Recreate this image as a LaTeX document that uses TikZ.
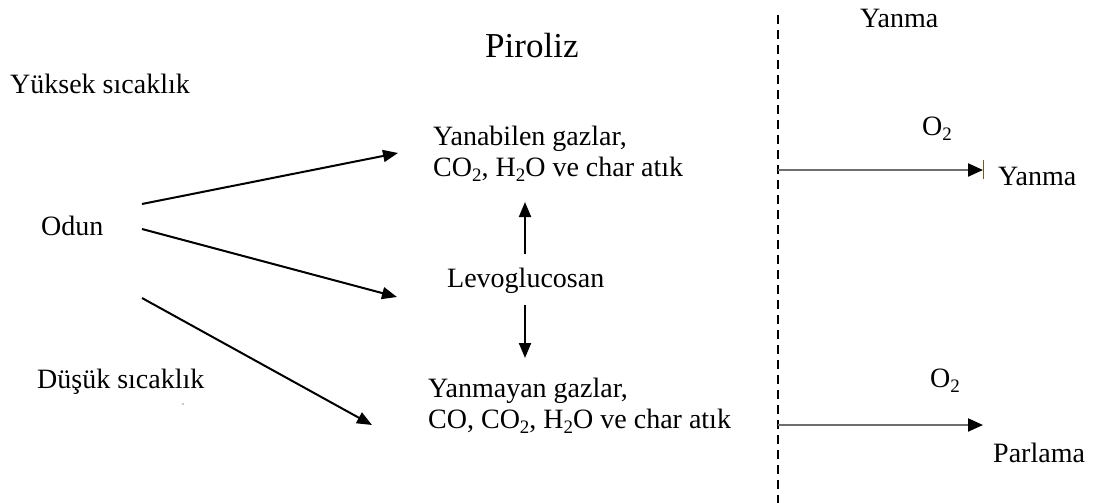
\documentclass[tikz,border=0pt]{standalone}
\usepackage{fontspec}
\setmainfont{Liberation Serif}
\usetikzlibrary{arrows.meta}
\definecolor{oxgray}{RGB}{110,110,110}
\definecolor{barbrown}{RGB}{120,90,40}
\newcommand\chemsub[1]{\raisebox{-5pt}{\fontsize{19}{19}\selectfont #1}}
\begin{document}
\begin{tikzpicture}[x=1pt,y=-1pt,
  txt/.style={anchor=base west,inner sep=0pt,font=\fontsize{28}{31}\selectfont,align=left},
  title/.style={anchor=base west,inner sep=0pt,font=\fontsize{35}{40}\selectfont},
  flow/.style={line width=2pt,-{Triangle[length=15pt,width=12pt]}},
  oxflow/.style={line width=2.2pt,draw=oxgray,-{Triangle[length=15pt,width=13pt,color=black]}},
  divider/.style={line width=1.6pt,dash pattern=on 9pt off 6pt}]
\useasboundingbox (0,0) rectangle (1100,503);

% headings
\node[title] (piroliz) at (485,58) {Piroliz};
\node[txt] (yanmaT) at (860,28) {Yanma};

% left side labels
\node[txt] (yuksek) at (10,93) {Yüksek sıcaklık};
\node[txt] (odun) at (41,235) {Odun};
\node[txt] (dusuk) at (37,388) {Düşük sıcaklık};
\fill[gray!60] (183,404) circle (1.2);

% pyrolysis products (base anchor sits on the last line)
\node[txt] (yanabilen) at (433,176) {Yanabilen gazlar,\\CO\chemsub{2}, H\chemsub{2}O ve char atık};
\node[txt] (levo) at (447,287) {Levoglucosan};
\node[txt] (yanmayan) at (428,428) {Yanmayan gazlar,\\CO, CO\chemsub{2}, H\chemsub{2}O ve char atık};

% combustion side
\node[txt] (o2a) at (922,135) {O\chemsub{2}};
\node[txt] (yanmaR) at (998,185) {Yanma};
\node[txt] (o2b) at (930,387) {O\chemsub{2}};
\node[txt] (parlama) at (993,462) {Parlama};

% dividing line between pyrolysis and combustion
\coordinate (divtop) at (778,15);
\coordinate (divbot) at (778,503);
\draw[divider] (divtop) -- (divbot);

% wood decomposition routes
\coordinate (odunA) at (142,204);
\coordinate (odunB) at (142,229);
\coordinate (odunC) at (142,298);
\coordinate (toYanabilen) at (398,153);
\coordinate (toLevo) at (397,297);
\coordinate (toYanmayan) at (372,425);
\draw[flow] (odunA) -- (toYanabilen);
\draw[flow] (odunB) -- (toLevo);
\draw[flow] (odunC) -- (toYanmayan);

% levoglucosan branches
\coordinate (levoUp) at (525,254);
\coordinate (levoUpEnd) at (525,202);
\coordinate (levoDn) at (525,305);
\coordinate (levoDnEnd) at (525,358);
\draw[flow] (levoUp) -- (levoUpEnd);
\draw[flow] (levoDn) -- (levoDnEnd);

% oxidation arrows
\coordinate (oxA) at (778,170);
\coordinate (oxAend) at (983,170);
\coordinate (oxB) at (778,425);
\coordinate (oxBend) at (983,425);
\draw[oxflow] (oxA) -- (oxAend);
\draw[line width=1pt,draw=barbrown] ([yshift=-9pt]oxAend) -- ([yshift=10pt]oxAend);
\draw[oxflow] (oxB) -- (oxBend);
\end{tikzpicture}
\end{document}
